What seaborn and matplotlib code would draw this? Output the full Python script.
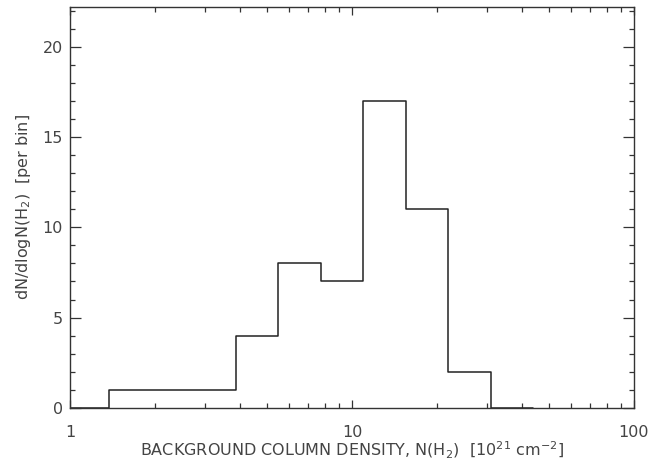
import numpy as np
import matplotlib
matplotlib.use('Agg')
import matplotlib.pyplot as plt
from matplotlib.ticker import FixedLocator, NullFormatter, MultipleLocator, LogLocator
import seaborn as sns

# bin edges (10^21 cm^-2) and counts
# (empty bins at both ends so the outline drops to zero like the original)
bin_edges = [0.966, 1.37, 1.93, 2.74, 3.87, 5.48, 7.75, 10.96, 15.52, 21.93, 31.04, 43.9]
counts = [0, 1, 1, 1, 4, 8, 7, 17, 11, 2, 0]

x_ticks = [1, 10, 100]
x_ticklabels = ['1', '10', '100']
y_ticks = [0, 5, 10, 15, 20]

sns.set_style('ticks')
plt.rcParams['font.family'] = ['DejaVu Sans']
plt.rcParams['mathtext.fontset'] = 'dejavusans'

ink = '#333333'

fig = plt.figure(figsize=(6.67, 4.62), dpi=100)
ax = fig.add_axes([0.105, 0.117, 0.8455, 0.868])

# with log_scale seaborn bins in log10 space; each bin centre carries its count
log_edges = np.log10(bin_edges)
centres = 10 ** ((log_edges[:-1] + log_edges[1:]) / 2)
sns.histplot(x=centres, weights=counts, bins=log_edges.tolist(), element='step', fill=False,
             log_scale=True, color='#222222', linewidth=1.1, ax=ax)

ax.set_xlim(1, 100)
ax.set_ylim(0, 22.2)

ax.xaxis.set_major_locator(FixedLocator(x_ticks))
ax.set_xticklabels(x_ticklabels)
ax.xaxis.set_minor_locator(LogLocator(base=10, subs=np.arange(2, 10)))
ax.xaxis.set_minor_formatter(NullFormatter())
ax.yaxis.set_major_locator(FixedLocator(y_ticks))
ax.yaxis.set_minor_locator(MultipleLocator(1))

for side in ['left', 'right', 'top', 'bottom']:
    ax.spines[side].set_visible(True)
    ax.spines[side].set_linewidth(1.0)
    ax.spines[side].set_color(ink)

ax.tick_params(which='both', direction='in', top=True, right=True, colors=ink,
               labelcolor='#444444', labelsize=11.5, width=0.9)
ax.tick_params(axis='x', which='major', length=6, pad=12)
ax.tick_params(axis='x', which='minor', length=3.5)
ax.tick_params(axis='y', which='major', length=8, pad=5)
ax.tick_params(axis='y', which='minor', length=3.5)

ax.set_xlabel(r'BACKGROUND COLUMN DENSITY, N(H$_2$)  [10$^{21}$ cm$^{-2}$]',
              fontsize=11.5, color='#444444', labelpad=0)
ax.set_ylabel(r'dN/dlogN(H$_2$)  [per bin]', fontsize=11.5, color='#444444', labelpad=7)

fig.savefig('out.png', dpi=100)
